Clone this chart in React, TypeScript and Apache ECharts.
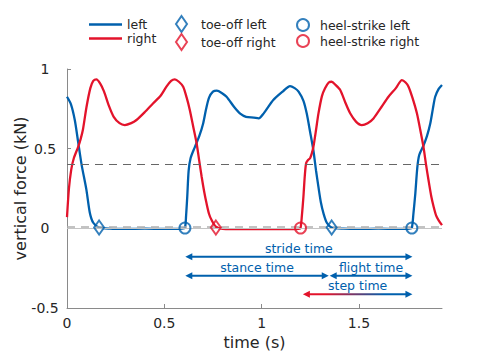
import React, { useEffect, useRef } from "react";
import * as echarts from "echarts";

const BLUE = "#0060ad";
const RED = "#e3132b";
const TEXT = "#262626";
const FONT = '"DejaVu Sans", sans-serif';

const leftForce: [number, number][] = [
  [0, 0.826], [0.02, 0.78], [0.04, 0.68], [0.057, 0.544], [0.075, 0.40], [0.1, 0.24], [0.117, 0.10],
  [0.135, 0.035], [0.165, 0.005], [0.22, -0.002], [0.3, -0.004], [0.4, -0.002], [0.5, -0.004],
  [0.59, -0.002], [0.606, 0.003], [0.612, 0.08], [0.618, 0.2], [0.625, 0.36], [0.635, 0.44],
  [0.657, 0.51], [0.68, 0.58], [0.7, 0.66], [0.715, 0.75], [0.73, 0.82], [0.75, 0.858], [0.77, 0.864],
  [0.795, 0.85], [0.82, 0.826], [0.86, 0.76], [0.89, 0.72], [0.92, 0.70], [0.96, 0.695], [0.985, 0.69],
  [1.01, 0.72], [1.06, 0.805], [1.11, 0.86], [1.146, 0.893], [1.17, 0.88], [1.19, 0.858], [1.215, 0.8],
  [1.232, 0.72], [1.25, 0.6], [1.266, 0.49], [1.28, 0.36], [1.292, 0.26], [1.305, 0.16], [1.318, 0.094],
  [1.335, 0.035], [1.36, 0.005], [1.42, -0.002], [1.5, -0.004], [1.6, -0.002], [1.7, -0.004],
  [1.76, -0.002], [1.772, 0.003], [1.78, 0.09], [1.79, 0.22], [1.8, 0.38], [1.81, 0.46], [1.832, 0.52],
  [1.85, 0.58], [1.867, 0.66], [1.88, 0.75], [1.892, 0.826], [1.91, 0.875], [1.927, 0.9],
];

const rightForce: [number, number][] = [
  [0, 0.07], [0.01, 0.25], [0.022, 0.37], [0.035, 0.44], [0.057, 0.51], [0.07, 0.56], [0.082, 0.62],
  [0.1, 0.76], [0.12, 0.88], [0.135, 0.925], [0.151, 0.935], [0.17, 0.91], [0.19, 0.86], [0.215, 0.77],
  [0.24, 0.70], [0.27, 0.66], [0.297, 0.648], [0.33, 0.66], [0.357, 0.68], [0.4, 0.73], [0.443, 0.785],
  [0.48, 0.83], [0.511, 0.889], [0.535, 0.925], [0.554, 0.935], [0.575, 0.92], [0.597, 0.889],
  [0.615, 0.82], [0.631, 0.743], [0.65, 0.63], [0.666, 0.534], [0.68, 0.42], [0.692, 0.324],
  [0.705, 0.23], [0.717, 0.157], [0.73, 0.09], [0.743, 0.052], [0.765, 0.01], [0.8, -0.003],
  [0.9, -0.005], [1.0, -0.005], [1.1, -0.005], [1.19, -0.003], [1.2, 0.003], [1.207, 0.08],
  [1.215, 0.2], [1.222, 0.33], [1.229, 0.41], [1.24, 0.43], [1.249, 0.44], [1.258, 0.47], [1.266, 0.51],
  [1.28, 0.62], [1.292, 0.72], [1.31, 0.83], [1.326, 0.879], [1.345, 0.915], [1.36, 0.92], [1.38, 0.9],
  [1.404, 0.868], [1.43, 0.79], [1.455, 0.722], [1.485, 0.67], [1.515, 0.648], [1.545, 0.66],
  [1.575, 0.69], [1.615, 0.76], [1.652, 0.826], [1.69, 0.88], [1.721, 0.93], [1.74, 0.915],
  [1.755, 0.889], [1.775, 0.82], [1.798, 0.722], [1.815, 0.62], [1.832, 0.51], [1.845, 0.40],
  [1.858, 0.30], [1.872, 0.2], [1.884, 0.136], [1.897, 0.08], [1.909, 0.052], [1.927, 0.02],
];

const toeOffLeft: [number, number][] = [[0.165, 0.005], [1.36, 0.005]];
const toeOffRight: [number, number][] = [[0.765, 0.005]];
const heelStrikeLeft: [number, number][] = [[0.606, 0.002], [1.772, 0.002]];
const heelStrikeRight: [number, number][] = [[1.2, 0.002]];

const thresholdHigh = 0.4;
const thresholdLow = 0.015;
const baseline = 0;

const xTicks = [0, 0.5, 1, 1.5];
const xMax = 1.927;

const annotationLabels = ["stride time", "stance time", "flight time", "step time"];
const annotationStart = [0.608, 0.608, 1.35, 1.212];
const annotationEnd = [1.775, 1.345, 1.775, 1.775];
const annotationLevel = [-0.178, -0.297, -0.297, -0.414];
const annotationStartColor = [BLUE, BLUE, BLUE, RED];
const annotationEndColor = [BLUE, BLUE, BLUE, BLUE];

export default function App() {
  const ref = useRef<HTMLDivElement>(null);
  useEffect(() => {
    if (!ref.current) return;
    const chart = echarts.init(ref.current, undefined, { renderer: "svg" });
    const legendText = { color: TEXT, fontSize: 12.5, fontFamily: FONT };
    chart.setOption({
      animation: false,
      backgroundColor: "#ffffff",
      textStyle: { fontFamily: FONT },
      grid: { left: 67, right: 37, top: 69, bottom: 51, containLabel: false, outerBoundsMode: "none" },
      legend: [
        {
          orient: "vertical", left: 89, top: 18, itemWidth: 33, itemHeight: 2.4, itemGap: 1, padding: 0,
          icon: "rect", textStyle: legendText, data: ["left", "right"],
        },
        {
          orient: "vertical", left: 175, top: 15, itemWidth: 11, itemHeight: 16, itemGap: 0, padding: 0,
          textStyle: { ...legendText, padding: [0, 0, 0, 9] },
          data: [
            { name: "toe-off left", icon: "diamond", itemStyle: { color: "rgba(0,0,0,0)", borderColor: BLUE, borderWidth: 2 } },
            { name: "toe-off right", icon: "diamond", itemStyle: { color: "rgba(0,0,0,0)", borderColor: RED, borderWidth: 2 } },
          ],
        },
        {
          orient: "vertical", left: 296, top: 18, itemWidth: 12, itemHeight: 12, itemGap: 2, padding: 0,
          textStyle: { ...legendText, padding: [0, 0, 0, 6] },
          data: [
            { name: "heel-strike left", icon: "circle", itemStyle: { color: "rgba(0,0,0,0)", borderColor: BLUE, borderWidth: 2 } },
            { name: "heel-strike right", icon: "circle", itemStyle: { color: "rgba(0,0,0,0)", borderColor: RED, borderWidth: 2 } },
          ],
        },
      ],
      xAxis: {
        type: "value", min: 0, max: xMax, interval: 0.5,
        name: "time (s)", nameLocation: "middle", nameGap: 26, nameMoveOverlap: false,
        nameTextStyle: { fontSize: 16, color: TEXT, fontFamily: FONT },
        axisLine: { onZero: false, lineStyle: { color: "#8a8a8a", width: 1 } },
        axisTick: { inside: true, length: 4, customValues: xTicks, lineStyle: { color: "#8a8a8a" } },
        axisLabel: { customValues: xTicks, fontSize: 14, color: TEXT, margin: 8, fontFamily: FONT },
        splitLine: { show: false },
      },
      yAxis: {
        type: "value", min: -0.5, max: 1, interval: 0.5,
        name: "vertical force (kN)", nameLocation: "middle", nameGap: 39, nameMoveOverlap: false,
        nameTextStyle: { fontSize: 16, color: TEXT, fontFamily: FONT },
        axisLine: { show: true, lineStyle: { color: "#8a8a8a", width: 1 } },
        axisTick: { show: true, inside: true, length: 4, lineStyle: { color: "#8a8a8a" } },
        axisLabel: { fontSize: 14, color: TEXT, margin: 22, align: "center", fontFamily: FONT },
        splitLine: { show: false },
      },
      series: [
        {
          name: "thresholds", type: "line", data: [], silent: true,
          markLine: {
            silent: true, symbol: ["none", "none"], label: { show: false },
            data: [
              { yAxis: baseline, lineStyle: { color: "#c4c4c4", width: 1, type: "solid" } },
              { yAxis: thresholdLow, lineStyle: { color: "#b0b0b0", width: 1.6, type: [8, 6] } },
              { yAxis: thresholdHigh, lineStyle: { color: "#666666", width: 1, type: [8, 6] } },
            ],
          },
        },
        {
          name: "left", type: "line", data: leftForce, symbol: "none", smooth: 0.25,
          lineStyle: { color: BLUE, width: 2.3 }, itemStyle: { color: BLUE },
        },
        {
          name: "right", type: "line", data: rightForce, symbol: "none", smooth: 0.25,
          lineStyle: { color: RED, width: 2.3 }, itemStyle: { color: RED },
        },
        {
          name: "toe-off left", type: "scatter", data: toeOffLeft, symbol: "diamond", symbolSize: [10, 14],
          itemStyle: { color: "rgba(0,0,0,0)", borderColor: BLUE, borderWidth: 2 }, z: 5,
        },
        {
          name: "toe-off right", type: "scatter", data: toeOffRight, symbol: "diamond", symbolSize: [10, 14],
          itemStyle: { color: "rgba(0,0,0,0)", borderColor: RED, borderWidth: 2 }, z: 5,
        },
        {
          name: "heel-strike left", type: "scatter", data: heelStrikeLeft, symbol: "circle", symbolSize: 11,
          itemStyle: { color: "rgba(0,0,0,0)", borderColor: BLUE, borderWidth: 2 }, z: 5,
        },
        {
          name: "heel-strike right", type: "scatter", data: heelStrikeRight, symbol: "circle", symbolSize: 11,
          itemStyle: { color: "rgba(0,0,0,0)", borderColor: RED, borderWidth: 2 }, z: 5,
        },
      ],
    });

    const graphics: any[] = [];
    const head = 7;
    const half = 3.5;
    annotationLabels.forEach((label, i) => {
      const p1 = chart.convertToPixel({ gridIndex: 0 }, [annotationStart[i], annotationLevel[i]]) as number[];
      const p2 = chart.convertToPixel({ gridIndex: 0 }, [annotationEnd[i], annotationLevel[i]]) as number[];
      const x1 = p1[0], x2 = p2[0], y = p1[1];
      const c1 = annotationStartColor[i], c2 = annotationEndColor[i];
      const stroke = c1 === c2 ? c1 : new echarts.graphic.LinearGradient(x1, 0, x2, 0, [
        { offset: 0, color: c1 }, { offset: 0.2, color: c1 }, { offset: 0.75, color: c2 }, { offset: 1, color: c2 },
      ], true);
      graphics.push({
        type: "line", silent: true, z: 10,
        shape: { x1: x1 + 4, y1: y, x2: x2 - 4, y2: y },
        style: { stroke, lineWidth: 2 },
      });
      graphics.push({
        type: "polygon", silent: true, z: 10,
        shape: { points: [[x1, y], [x1 + head, y - half], [x1 + head, y + half]] },
        style: { fill: c1 },
      });
      graphics.push({
        type: "polygon", silent: true, z: 10,
        shape: { points: [[x2, y], [x2 - head, y - half], [x2 - head, y + half]] },
        style: { fill: c2 },
      });
      graphics.push({
        type: "text", silent: true, z: 10,
        style: {
          text: label, x: (x1 + x2) / 2, y: y - 2, align: "center", verticalAlign: "bottom",
          fill: BLUE, fontSize: 12.5, fontFamily: FONT,
        },
      });
    });
    chart.setOption({ graphic: graphics });

    return () => chart.dispose();
  }, []);
  return <div ref={ref} style={{ width: 479, height: 359, position: "absolute", left: 0, top: 0 }} />;
}
